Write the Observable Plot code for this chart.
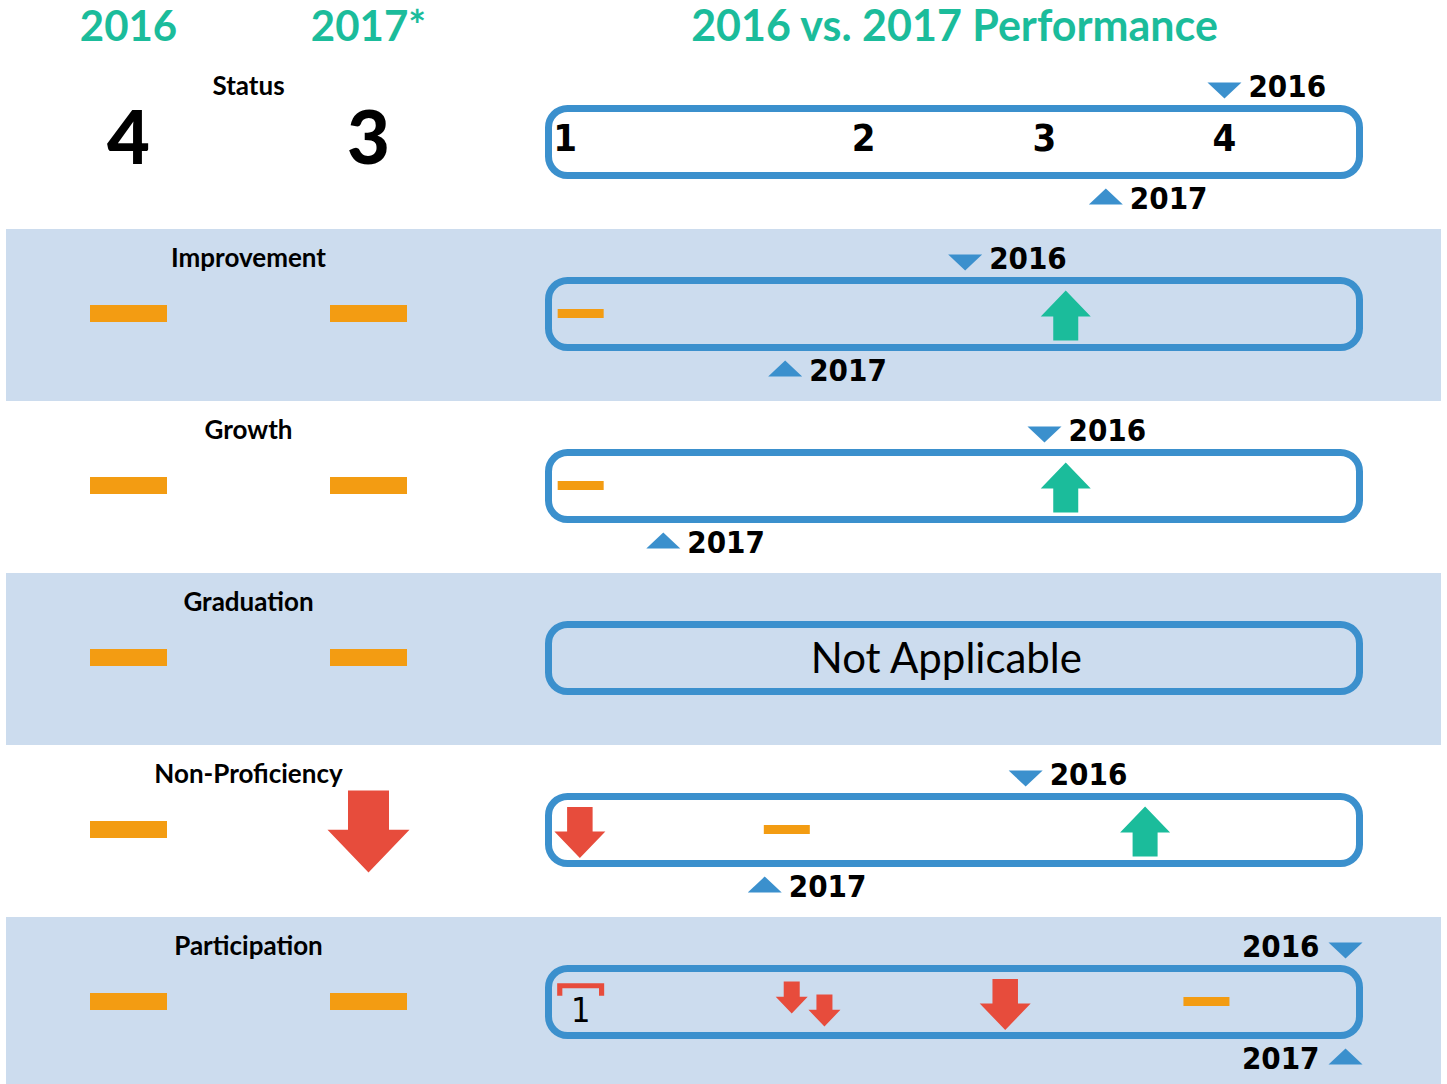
<!DOCTYPE html>
<html><head><meta charset="utf-8">
<script src="https://cdn.jsdelivr.net/npm/d3@7"></script>
<script src="https://cdn.jsdelivr.net/npm/@observablehq/plot@0.6"></script>
<style>
html,body{margin:0;padding:0;background:#fff;overflow:hidden}
#chart{display:flex;width:1447px;height:1084px}
#chart svg{display:block;flex:none}
</style></head><body><div id="chart"></div>
<script>
// ---------- data ----------
const metrics = ["Status", "Improvement", "Growth", "Graduation", "Non-Proficiency", "Participation"];
const yearColumns = ["2016", "2017"];
const yearHeaders = ["2016", "2017*"];
const title = "2016 vs. 2017 Performance";
const result2016 = ["4", "flat", "flat", "flat", "flat", "flat"];
const result2017 = ["3", "flat", "flat", "flat", "down", "flat"];
// marker position along the performance track (0 = left end, 100 = right end)
const marker2016 = [83.0, 51.3, 61.0, null, 58.7, 97.8];
const marker2017 = [68.5, 29.3, 14.4, null, 26.8, 97.8];
const notApplicableText = "Not Applicable";
const statusLevels = ["1", "2", "3", "4"];
const statusLevelPos = [2.4, 38.9, 61.0, 83.0];
const trackRange = [0, 100];
const iconMetric = ["Improvement", "Improvement", "Growth", "Growth", "Non-Proficiency", "Non-Proficiency", "Non-Proficiency", "Participation", "Participation", "Participation", "Participation", "Participation"];
const iconPos = [4.3, 63.6, 4.3, 63.6, 4.2, 29.5, 73.3, 4.3, 30.1, 34.1, 56.2, 80.8];
const iconKind = ["flat", "up", "flat", "up", "down", "flat", "up", "flag", "down-small-upper", "down-small-lower", "down", "flat"];
const iconLabel = ["", "", "", "", "", "", "", "1", "", "", "", ""];

// ---------- styles ----------
const C = {green: "#1bbc9b", blue: "#3b90cd", band: "#ccdcee", orange: "#f39c12", red: "#e74c3c", ink: "#000"};
const FONT = "Lato, 'Open Sans', sans-serif";
const NARROW = "'Liberation Sans Narrow', 'DejaVu Sans Condensed', Lato, sans-serif";

function arrowSym(dir, k) {
  const s = dir === "up" ? 1 : -1;
  return {draw(ctx) {
    const hb = 0.04 * k, sw = 0.5 * k;
    ctx.moveTo(0, -s * k);
    ctx.lineTo(k, s * hb);
    ctx.lineTo(sw, s * hb);
    ctx.lineTo(sw, s * k);
    ctx.lineTo(-sw, s * k);
    ctx.lineTo(-sw, s * hb);
    ctx.lineTo(-k, s * hb);
    ctx.closePath();
  }};
}
function dashSym(k, ratio = 0.2) {
  return {draw(ctx) {
    const h = ratio * k;
    ctx.moveTo(-k, -h); ctx.lineTo(k, -h); ctx.lineTo(k, h); ctx.lineTo(-k, h); ctx.closePath();
  }};
}
function triSym(dir, k) {
  const s = dir === "up" ? -1 : 1;
  return {draw(ctx) {
    const h = 0.47 * k;
    ctx.moveTo(-k, -s * h); ctx.lineTo(k, -s * h); ctx.lineTo(0, s * h); ctx.closePath();
  }};
}
function bracketSym(k) {
  return {draw(ctx) {
    const t = 0.22 * k, h = 0.27 * k;
    ctx.moveTo(-k, -h); ctx.lineTo(k, -h); ctx.lineTo(k, h); ctx.lineTo(k - t, h);
    ctx.lineTo(k - t, -h + t); ctx.lineTo(-k + t, -h + t); ctx.lineTo(-k + t, h); ctx.lineTo(-k, h);
    ctx.closePath();
  }};
}

// ---------- derived tables ----------
const shadedRows = metrics.filter((m, i) => i % 2 === 1);
const summary = metrics.flatMap((m, i) => [
  {metric: m, year: "2016", value: result2016[i]},
  {metric: m, year: "2017", value: result2017[i]}
]);
const isNum = (v) => /^\d+$/.test(v);
const markers = metrics.flatMap((m, i) => [
  marker2016[i] == null ? null : {metric: m, year: "2016", pos: marker2016[i]},
  marker2017[i] == null ? null : {metric: m, year: "2017", pos: marker2017[i]}
]).filter(Boolean);
const tracks = metrics.map((m, i) => ({metric: m, applicable: marker2016[i] != null}));
const statusTicks = statusLevels.map((l, i) => ({metric: "Status", label: l, pos: statusLevelPos[i]}));
const icons = iconMetric.map((m, i) => ({metric: m, pos: iconPos[i], kind: iconKind[i], label: iconLabel[i]}));

const Y = {type: "band", domain: metrics, range: [57, 1089], padding: 0, axis: null};

// ---------- left panel ----------
const left = Plot.plot({
  width: 540, height: 1084,
  marginTop: 57, marginLeft: 6, marginRight: 0, marginBottom: 0,
  style: {fontFamily: FONT, background: "transparent", overflow: "visible"},
  x: {type: "point", domain: ["2016", "label", "2017"], range: [127, 368], padding: 0, axis: null},
  y: Y,
  marks: [
    Plot.cell(shadedRows, {y: (d) => d, fill: C.band}),
    Plot.text(yearColumns, {x: (d) => d, text: (d, i) => yearHeaders[i], frameAnchor: "top", lineAnchor: "middle",
      dy: -30, fill: C.green, fontSize: 42, fontWeight: "bold"}),
    Plot.text(metrics, {x: () => "label", y: (d) => d, text: (d) => d, dy: -57, fontSize: 26, fontWeight: "bold", fill: C.ink}),
    Plot.text(summary.filter((d) => isNum(d.value)), {x: "year", y: "metric", text: "value", dy: -3,
      fontSize: 74, fontWeight: 900, fill: C.ink}),
    Plot.dot(summary.filter((d) => d.value === "flat"), {x: "year", y: "metric", symbol: dashSym(38.5, 0.22),
      fill: C.orange, stroke: "none", dy: -2}),
    Plot.dot(summary.filter((d) => d.value === "down"), {x: "year", y: "metric", symbol: arrowSym("down", 41),
      fill: C.red, stroke: "none", dy: 0})
  ]
});

// ---------- right panel ----------
const ICON_STYLE = {
  "flat": {symbol: dashSym(23, 0.2), fill: C.orange, dy: -2},
  "up": {symbol: arrowSym("up", 25), fill: C.green, dy: 0},
  "down": {symbol: arrowSym("down", 25.5), fill: C.red, dy: 1},
  "down-small-upper": {symbol: arrowSym("down", 16), fill: C.red, dy: -6},
  "down-small-lower": {symbol: arrowSym("down", 16), fill: C.red, dy: 7},
  "flag": {symbol: bracketSym(23.5), fill: C.red, dy: -14}
};
const edge = 90; // markers beyond this position put their label on the left
const markLabel = {fontSize: 31, fontWeight: "bold", fontFamily: NARROW, fill: C.ink};
const right = Plot.plot({
  width: 907, height: 1084,
  marginTop: 57, marginLeft: 0, marginRight: 6, marginBottom: 0,
  style: {fontFamily: FONT, background: "transparent", overflow: "visible"},
  x: {type: "linear", domain: trackRange, range: [5, 823], axis: null},
  y: Y,
  marks: [
    Plot.cell(shadedRows, {y: (d) => d, fill: C.band}),
    Plot.text([title], {x: () => d3.mean(trackRange), text: (d) => d, frameAnchor: "top", lineAnchor: "middle",
      dy: -30, fill: C.green, fontSize: 43, fontWeight: "bold"}),
    Plot.barX(tracks, {x1: () => trackRange[0], x2: () => trackRange[1], y: "metric",
      fill: (d) => "none", stroke: C.blue, strokeWidth: 7, rx: 19,
      insetTop: 51.5, insetBottom: 53.5, insetLeft: 3.5, insetRight: 3.5}),
    Plot.text(statusTicks, {x: "pos", y: "metric", text: "label", dy: -5, fontSize: 38, fontWeight: "bold",
      fontFamily: NARROW, fill: C.ink}),
    Plot.text(tracks.filter((d) => !d.applicable), {x: () => d3.mean(trackRange) - 1, y: "metric",
      text: () => notApplicableText, dy: 0, fontSize: 42, fill: C.ink}),
    // year markers
    Plot.dot(markers.filter((d) => d.year === "2016"), {x: "pos", y: "metric", symbol: triSym("down", 17),
      fill: C.blue, stroke: "none", dy: -53}),
    Plot.dot(markers.filter((d) => d.year === "2017"), {x: "pos", y: "metric", symbol: triSym("up", 17),
      fill: C.blue, stroke: "none", dy: 53}),
    ...["2016", "2017"].flatMap((yr) => {
      const dy = yr === "2016" ? -56 : 56;
      return [
        Plot.text(markers.filter((d) => d.year === yr && d.pos <= edge), {x: "pos", y: "metric", text: "year",
          dy, dx: 24, textAnchor: "start", ...markLabel}),
        Plot.text(markers.filter((d) => d.year === yr && d.pos > edge), {x: "pos", y: "metric", text: "year",
          dy, dx: -26, textAnchor: "end", ...markLabel})
      ];
    }),
    // subgroup icons
    ...Object.entries(ICON_STYLE).map(([kind, st]) =>
      Plot.dot(icons.filter((d) => d.kind === kind), {x: "pos", y: "metric", symbol: st.symbol,
        fill: st.fill, stroke: "none", dy: st.dy})),
    Plot.text(icons.filter((d) => d.label), {x: "pos", y: "metric", text: "label", dy: 8, fontSize: 34,
      fontFamily: NARROW, fill: C.ink})
  ]
});

document.getElementById("chart").append(left, right);
</script></body></html>
